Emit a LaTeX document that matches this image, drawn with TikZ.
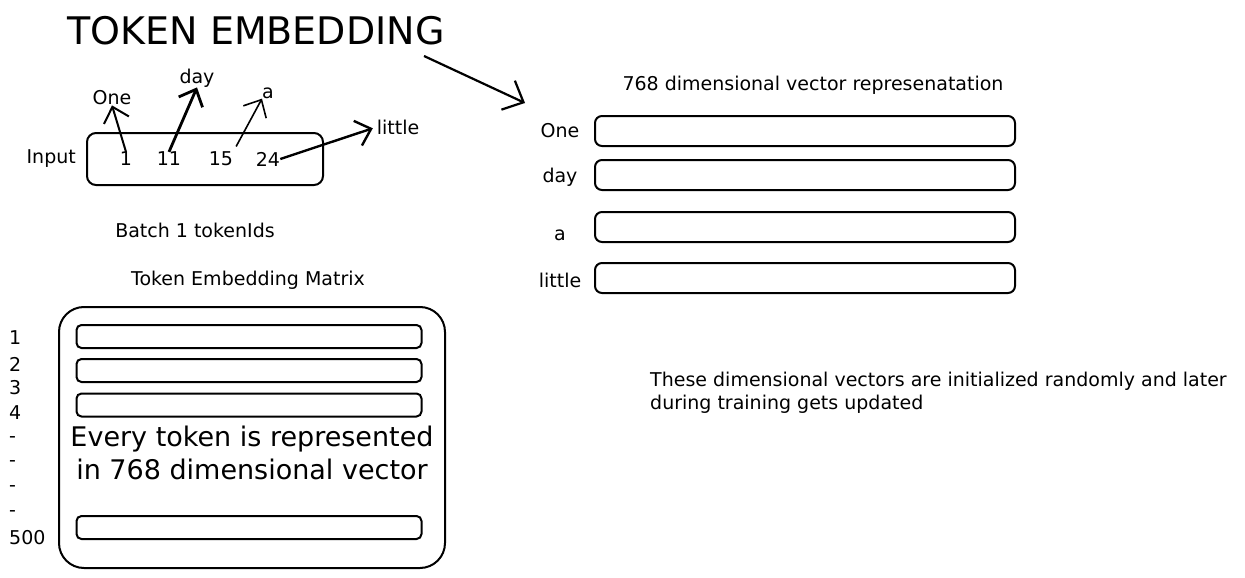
\documentclass[tikz,border=0pt]{standalone}
\usepackage{fontspec}
\setmainfont{DejaVu Sans}
\usetikzlibrary{arrows.meta}
\usetikzlibrary{positioning}
\tikzset{txt/.style={inner sep=0pt,font=\fontsize{19}{22}\selectfont}}
\tikzset{vecbox/.style={draw,line width=2pt,rounded corners=7pt,inner sep=0pt}}
\tikzset{tokarrow/.style={-{Straight Barb[length=14pt,width=26pt]},line width=2pt}}

\begin{document}
\begin{tikzpicture}[x=1pt,y=-1pt]
\useasboundingbox (0,0) rectangle (1245,578);

% title and the arrow to the vectors
\node[txt,font=\fontsize{38}{42}\selectfont] (title) at (256,31) {TOKEN EMBEDDING};
\coordinate (tstart) at (424,56);
\coordinate (ttip) at (525,103);
\draw[tokarrow,-{Straight Barb[length=17pt,width=32pt]},line width=2.2pt] (tstart) -- (ttip);

% input batch
\node[vecbox,rounded corners=9pt,minimum width=236pt,minimum height=52pt] (input) at (205,159) {};
\node[txt,left=10pt of input] (inlab) {Input};
\foreach \n/\x in {1/126,11/169,15/221,24/268}
  {
 \node[txt] (n\n) at (\x,159) {\n};
 }
\node[txt] (wone) at (112,98) {One};
\node[txt] (wday) at (197,78) {day};
\node[txt] (wa) at (268,93) {a};
\node[txt] (wlittle) at (398,127) {little};
\draw[tokarrow] (n1.north) -- (wone.south);
\draw[tokarrow,line width=2.8pt] (n11.north) -- (wday.south);
\draw[tokarrow,line width=1.6pt,shorten <=6pt] (n15.north east) -- (wa.south west);
\draw[tokarrow,line width=2.4pt,shorten >=4pt] (n24.east) -- (wlittle.west);
\node[txt] (batch) at (195,230) {Batch 1 tokenIds};

% vector representation
\node[txt] (vechead) at (813,85) {768 dimensional vector represenatation};
\foreach \w/\y/\ly [count=\i] in {One/131/131,day/175/177,a/227/235,little/278/280}
  {
 \node[vecbox,minimum width=420pt,minimum height=30pt] (v\i) at (805,\y) {};
 \node[txt] (vl\i) at (560,\ly) {\w};
 }

% embedding matrix
\node[txt] (mathead) at (248,280) {Token Embedding Matrix};
\node[vecbox,rounded corners=25pt,minimum width=386pt,minimum height=261pt] (embmat) at (252,437.5) {};
\foreach \y [count=\i] in {336.5,370.5,405,527.5}
  {
 \node[vecbox,rounded corners=5pt,minimum width=345pt,minimum height=23pt] (m\i) at (249,\y) {};
 }
\foreach \t/\y [count=\i] in {1/338,2/364,3/388,4/413,-/440,-/464,-/489,-/514,500/538}
  {
 \node[txt,anchor=west] (idx\i) at (9,\y) {\t};
 }
\node[txt,align=center,font=\fontsize{27}{33}\selectfont] (bigtxt) at (252,453) {Every token is represented\\in 768 dimensional vector};

% note
\node[txt,align=left,anchor=west,font=\fontsize{19}{23}\selectfont] (note) at (650,393) {These dimensional vectors are initialized randomly and later\\during training gets updated};

\end{tikzpicture}
\end{document}
